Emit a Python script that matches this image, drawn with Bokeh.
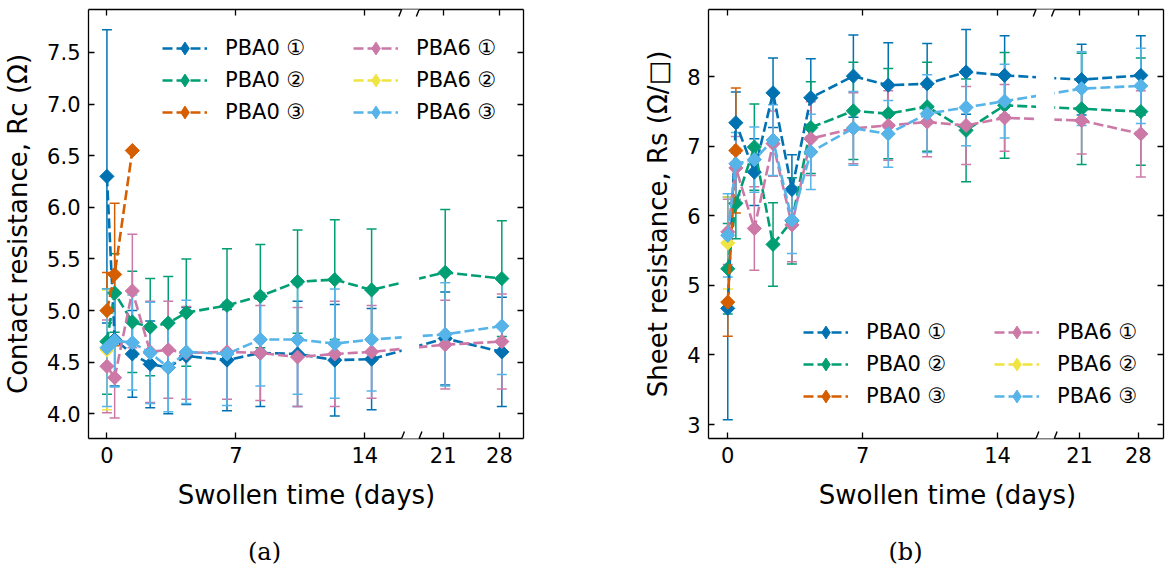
import numpy as np
from bokeh.plotting import figure
from bokeh.models import (ColumnDataSource, LinearAxis, FixedTicker, Range1d, Legend,
                          LegendItem, BoxAnnotation, Arrow, Label, PrintfTickFormatter,
                          CustomJSTickFormatter)
from bokeh.layouts import row, column
from bokeh.embed import file_html
from bokeh.resources import INLINE

# ---------------- data ----------------
days = [0, 0.42, 1.38, 2.35, 3.33, 4.31, 6.52, 8.33, 10.35, 12.37, 14.37, 21.25, 28.3]
x_ticks = [0, 7, 14, 21, 28]
x_tick_labels = ["0", "7", "14", "21", "28"]
series_labels = ["PBA0 ①", "PBA0 ②", "PBA0 ③", "PBA6 ①", "PBA6 ②", "PBA6 ③"]
colors = ["#0072B2", "#009E73", "#D55E00", "#CC79A7", "#F0E442", "#56B4E9"]

# (a) contact resistance Rc (Ohm)
rc_pba0_1 = [6.30, 4.72, 4.58, 4.48, 4.45, 4.56, 4.52, 4.59, 4.58, 4.52, 4.53, 4.73, 4.60]
rc_pba0_1_err = [1.42, 0.45, 0.42, 0.42, 0.45, 0.47, 0.49, 0.52, 0.51, 0.54, 0.49, 0.45, 0.53]
rc_pba0_2 = [4.70, 5.17, 4.89, 4.84, 4.88, 4.98, 5.05, 5.14, 5.28, 5.30, 5.20, 5.37, 5.31]
rc_pba0_2_err = [0.51, 0.38, 0.49, 0.47, 0.45, 0.52, 0.55, 0.50, 0.50, 0.58, 0.59, 0.61, 0.56]
rc_pba0_3 = [5.00, 5.35, 6.55]
rc_pba0_3_err = [0.37, 0.69, None]
rc_pba6_1 = [4.46, 4.35, 5.19, 4.60, 4.62, 4.59, 4.60, 4.59, 4.55, 4.58, 4.60, 4.67, 4.70]
rc_pba6_1_err = [0.45, 0.39, 0.55, 0.49, 0.47, 0.45, 0.46, 0.46, 0.48, 0.51, 0.45, 0.43, 0.46]
rc_pba6_2 = [4.62]
rc_pba6_2_err = [0.58]
rc_pba6_3 = [4.64, 4.71, 4.69, 4.59, 4.45, 4.60, 4.58, 4.72, 4.72, 4.68, 4.72, 4.77, 4.85]
rc_pba6_3_err = [0.57, 0.45, 0.46, 0.49, 0.43, 0.50, 0.50, 0.45, 0.53, 0.53, 0.50, 0.50, 0.47]

# (b) sheet resistance Rs (Ohm/sq)
rs_pba0_1 = [4.67, 7.34, 6.63, 7.77, 6.38, 7.70, 8.01, 7.88, 7.90, 8.07, 8.02, 7.96, 8.02]
rs_pba0_1_err = [1.60, 0.44, 0.48, 0.50, 0.50, 0.56, 0.59, 0.61, 0.58, 0.61, 0.57, 0.51, 0.57]
rs_pba0_2 = [5.24, 6.18, 6.99, 5.59, 5.93, 7.27, 7.51, 7.47, 7.57, 7.23, 7.59, 7.54, 7.50]
rs_pba0_2_err = [0.65, 0.51, 0.62, 0.60, 0.62, 0.66, 0.70, 0.65, 0.64, 0.74, 0.76, 0.80, 0.77]
rs_pba0_3 = [4.76, 6.94]
rs_pba0_3_err = [0.49, 0.90]
rs_pba6_1 = [5.77, 6.69, 5.82, 7.04, 5.87, 7.11, 7.26, 7.30, 7.35, 7.30, 7.41, 7.37, 7.18]
rs_pba6_1_err = [0.47, 0.45, 0.60, 0.47, 0.53, 0.53, 0.51, 0.50, 0.50, 0.56, 0.48, 0.48, 0.62]
rs_pba6_2 = [5.61]
rs_pba6_2_err = [0.66]
rs_pba6_3 = [5.72, 6.75, 6.81, 7.09, 5.94, 6.92, 7.26, 7.18, 7.47, 7.56, 7.65, 7.83, 7.87]
rs_pba6_3_err = [0.60, 0.45, 0.47, 0.51, 0.48, 0.54, 0.53, 0.48, 0.56, 0.55, 0.53, 0.53, 0.54]

rc_yticks = [4.0, 4.5, 5.0, 5.5, 6.0, 6.5, 7.0, 7.5]
rs_yticks = [3, 4, 5, 6, 7, 8]

# ---------------- broken x axis ----------------
SEG_L = (-1.0, 16.0)
SEG_R = (18.0, 31.0)
GAP = 0.95
R = (SEG_L[1] - SEG_L[0]) / (3.0 * (SEG_R[1] - SEG_R[0]))


def brk(t):
    return t if t <= SEG_L[1] else SEG_L[1] + GAP + (t - SEG_R[0]) * R


X_END = brk(SEG_R[1])
FONT = "DejaVu Sans"
FIG_H = 471
FRAME_H = FIG_H - 9 - 33


def style_axis(ax, labels=True, size="21px"):
    ax.major_tick_in = 6
    ax.major_tick_out = 0
    ax.minor_tick_line_color = None
    ax.axis_line_width = 1.3
    ax.axis_line_color = "black"
    ax.major_tick_line_width = 1.3
    ax.major_tick_line_color = "black"
    ax.major_label_text_font = FONT
    if labels:
        ax.major_label_text_color = "black"
        ax.major_label_text_font_size = size
        ax.major_label_standoff = 8
    else:
        ax.major_label_text_color = None
        ax.major_label_text_font_size = "0px"
        ax.major_label_standoff = 0


def make_panel(vals, errs, yrange, yticks, yfmt, ylabel, width, border_left, legend_loc):
    p = figure(width=width, height=FIG_H, x_range=Range1d(SEG_L[0], X_END),
               y_range=Range1d(*yrange), x_axis_location=None, y_axis_location=None,
               toolbar_location=None, output_backend="svg",
               min_border_left=border_left, min_border_right=2,
               min_border_top=9, min_border_bottom=33,
               outline_line_color=None, background_fill_color="white",
               border_fill_color="white")
    p.grid.visible = False

    xt = [brk(t) for t in x_ticks]
    xfmt = CustomJSTickFormatter(args=dict(labels=x_tick_labels), code="return labels[index]")
    bottom = LinearAxis(ticker=FixedTicker(ticks=xt), formatter=xfmt)
    style_axis(bottom)
    p.add_layout(bottom, "below")
    top = LinearAxis(ticker=FixedTicker(ticks=xt), formatter=xfmt)
    style_axis(top, labels=False)
    p.add_layout(top, "above")

    left = LinearAxis(ticker=FixedTicker(ticks=yticks), formatter=PrintfTickFormatter(format=yfmt),
                      axis_label=ylabel)
    style_axis(left)
    left.axis_label_text_font = FONT
    left.axis_label_text_font_size = "26px"
    left.axis_label_text_font_style = "normal"
    left.axis_label_text_color = "black"
    left.axis_label_standoff = 11
    p.add_layout(left, "left")
    right = LinearAxis(ticker=FixedTicker(ticks=yticks))
    style_axis(right, labels=False)
    p.add_layout(right, "right")

    sources = []
    for v, e in zip(vals, errs):
        n = len(v)
        y = np.array(v, dtype=float)
        err = np.array(e, dtype=float)
        x = np.array([brk(t) for t in days[:n]], dtype=float)
        sources.append(ColumnDataSource(dict(x=x, y=y, lo=y - err, hi=y + err)))

    # error bars below all data lines (matplotlib default)
    for src, c in zip(sources, colors):
        p.segment(x0="x", y0="lo", x1="x", y1="hi", source=src, line_color=c, line_width=1.5)
        p.scatter(x="x", y="lo", source=src, marker="dash", size=10, line_color=c, line_width=1.5)
        p.scatter(x="x", y="hi", source=src, marker="dash", size=10, line_color=c, line_width=1.5)

    items = []
    for src, c, lab in zip(sources, colors, series_labels):
        ln = p.line(x="x", y="y", source=src, line_color=c, line_width=2.6, line_dash="10 4")
        # legend key diamond (legend glyphs ignore marker angles); hidden under the data marker
        key = p.scatter(x="x", y="y", source=src, marker="diamond", size=8,
                        fill_color=c, line_color=c, line_width=1)
        p.scatter(x="x", y="y", source=src, marker="square", angle=np.pi / 4, size=10,
                  fill_color=c, line_color=c, line_width=1)
        items.append(LegendItem(label=lab, renderers=[ln, key]))

    # gap of the broken axis
    ppu_x = (width - border_left - 2) / (X_END - SEG_L[0])
    ppu_y = FRAME_H / (yrange[1] - yrange[0])
    pad = 9 / ppu_y
    p.add_layout(BoxAnnotation(left=SEG_L[1], right=SEG_L[1] + GAP,
                               bottom=yrange[0] - pad, top=yrange[1] + pad,
                               fill_color="white", fill_alpha=1.0, line_color=None))
    dx = 2.8 / ppu_x
    dy = 7.0 / ppu_y
    for xc in (SEG_L[1], SEG_L[1] + GAP):
        for yc in yrange:
            p.add_layout(Arrow(end=None, x_start=xc - dx, y_start=yc - dy,
                               x_end=xc + dx, y_end=yc + dy, line_color="black", line_width=1.4))

    legend = Legend(items=items, ncols=2, location=legend_loc, glyph_width=45, glyph_height=32,
                    label_height=32, label_standoff=18, label_width=128, spacing=0,
                    padding=0, margin=0, border_line_color=None, background_fill_alpha=0,
                    label_text_font=FONT, label_text_font_size="21px", label_text_color="black")
    p.add_layout(legend)
    return p


fa = make_panel([rc_pba0_1, rc_pba0_2, rc_pba0_3, rc_pba6_1, rc_pba6_2, rc_pba6_3],
                [rc_pba0_1_err, rc_pba0_2_err, rc_pba0_3_err, rc_pba6_1_err, rc_pba6_2_err, rc_pba6_3_err],
                (3.761, 7.9165), rc_yticks, "%.1f", "Contact resistance, Rc (Ω)",
                525, 88, (74, 310))
fb = make_panel([rs_pba0_1, rs_pba0_2, rs_pba0_3, rs_pba6_1, rs_pba6_2, rs_pba6_3],
                [rs_pba0_1_err, rs_pba0_2_err, rs_pba0_3_err, rs_pba6_1_err, rs_pba6_2_err, rs_pba6_3_err],
                (2.799, 8.968), rs_yticks, "%d", "Sheet resistance, Rs (Ω/□)",
                640, 183, (95, 26))

ft = figure(width=1165, height=98, x_range=Range1d(0, 1165), y_range=Range1d(0, 98),
            min_border=0, x_axis_location=None, y_axis_location=None, outline_line_color=None,
            toolbar_location=None, output_backend="svg")
ft.grid.visible = False
for xc, txt in ((306, "Swollen time (days)"), (947, "Swollen time (days)")):
    ft.add_layout(Label(x=xc, y=75, text=txt, text_align="center", text_baseline="alphabetic",
                        text_font=FONT, text_font_size="26px", text_color="black"))
for xc, txt in ((264, "(a)"), (905, "(b)")):
    ft.add_layout(Label(x=xc, y=18, text=txt, text_align="center", text_baseline="alphabetic",
                        text_font="DejaVu Serif", text_font_size="24px", text_color="black"))

layout = column(row(fa, fb), ft)
open("out.html", "w").write(file_html(layout, INLINE))
